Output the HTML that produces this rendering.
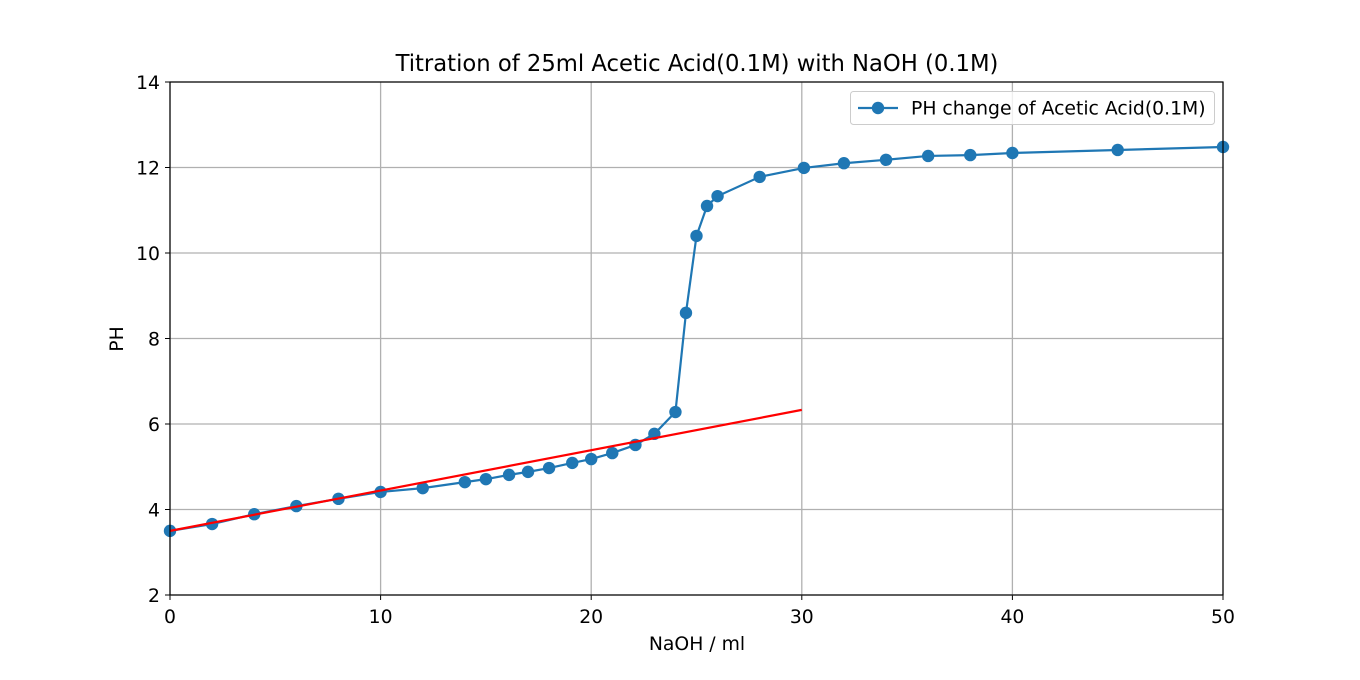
<!DOCTYPE html>
<html><head><meta charset="utf-8"><style>
body{margin:0;background:#fff;}
svg{display:block;font-family:"DejaVu Sans","Liberation Sans",sans-serif;}
</style></head><body>
<svg id="chart" width="1360" height="680"></svg>
<script>
const volumes=[0,2,4,6,8,10,12,14,15,16.1,17,18,19.1,20,21,22.1,23,24,24.5,25,25.5,26,28,30.1,32,34,36,38,40,45,50];
const phValues=[3.5,3.66,3.89,4.08,4.25,4.41,4.5,4.64,4.71,4.81,4.88,4.97,5.09,5.18,5.32,5.51,5.77,6.28,8.6,10.4,11.1,11.33,11.78,11.99,12.1,12.18,12.27,12.29,12.34,12.41,12.48];
const fitX=[0,30];
const fitY=[3.5,6.33];
const xTicks=[0,10,20,30,40,50];
const yTicks=[2,4,6,8,10,12,14];
const L=170,R=1223,T=82,B=595;
const xs=v=>L+(v-0)/(50-0)*(R-L);
const ys=v=>B-(v-2)/(14-2)*(B-T);
const NS="http://www.w3.org/2000/svg";
const svg=document.getElementById('chart');
function mk(tag,attrs,parent){const e=document.createElementNS(NS,tag);for(const k in attrs)e.setAttribute(k,attrs[k]);(parent||svg).appendChild(e);return e;}
xTicks.forEach(t=>{
 const g=mk('line',{x1:xs(t),x2:xs(t),y1:T,y2:B,stroke:'#b0b0b0','stroke-width':1.3});
 
 
 const tk=mk('line',{x1:xs(t),x2:xs(t),y1:B,y2:B+5,stroke:'#000','stroke-width':1});
 
 
 const lb=mk('text',{x:xs(t),y:B+28,'text-anchor':'middle','font-size':18.8});
 lb.textContent=t;
 
 
});
yTicks.forEach(t=>{
 const g=mk('line',{x1:L,x2:R,y1:ys(t),y2:ys(t),stroke:'#b0b0b0','stroke-width':1.3});
 
 
 const tk=mk('line',{x1:L-5,x2:L,y1:ys(t),y2:ys(t),stroke:'#000','stroke-width':1});
 
 
 const lb=mk('text',{x:L-10,y:ys(t)+7,'text-anchor':'end','font-size':18.8});
 lb.textContent=t;
 
 
});
const pl=mk('polyline',{points:volumes.map((v,i)=>xs(v)+','+ys(phValues[i])).join(' '),fill:'none',stroke:'#1f77b4','stroke-width':2.2});


volumes.forEach((v,i)=>{
 const c=mk('circle',{cx:xs(v),cy:ys(phValues[i]),r:6.2,fill:'#1f77b4'});
 
 
});
const fl=mk('line',{x1:xs(fitX[0]),y1:ys(fitY[0]),x2:xs(fitX[1]),y2:ys(fitY[1]),stroke:'#ff0000','stroke-width':2.2});


const fr=mk('rect',{x:L,y:T,width:R-L,height:B-T,fill:'none',stroke:'#000','stroke-width':1.2});


</script>
<svg style="position:absolute;left:0;top:0" width="1360" height="680">
<text x="697" y="71" text-anchor="middle" font-size="22.7" font-family="DejaVu Sans, Liberation Sans, sans-serif">Titration of 25ml Acetic Acid(0.1M) with NaOH (0.1M)</text>
<text x="697" y="650" text-anchor="middle" font-size="18.8" font-family="DejaVu Sans, Liberation Sans, sans-serif">NaOH / ml</text>
<text transform="translate(123,339) rotate(-90)" text-anchor="middle" font-size="18.8" font-family="DejaVu Sans, Liberation Sans, sans-serif">PH</text>
<g>
<rect x="850.5" y="91.5" width="364" height="33" rx="3" fill="#fff" fill-opacity="0.8" stroke="#cccccc"/>
<line x1="858" y1="108" x2="898" y2="108" stroke="#1f77b4" stroke-width="2.2"/>
<circle cx="878" cy="108" r="6.2" fill="#1f77b4"/>
<text x="911" y="114.5" font-size="18.8" font-family="DejaVu Sans, Liberation Sans, sans-serif">PH change of Acetic Acid(0.1M)</text>
</g>
</svg>
</body></html>
